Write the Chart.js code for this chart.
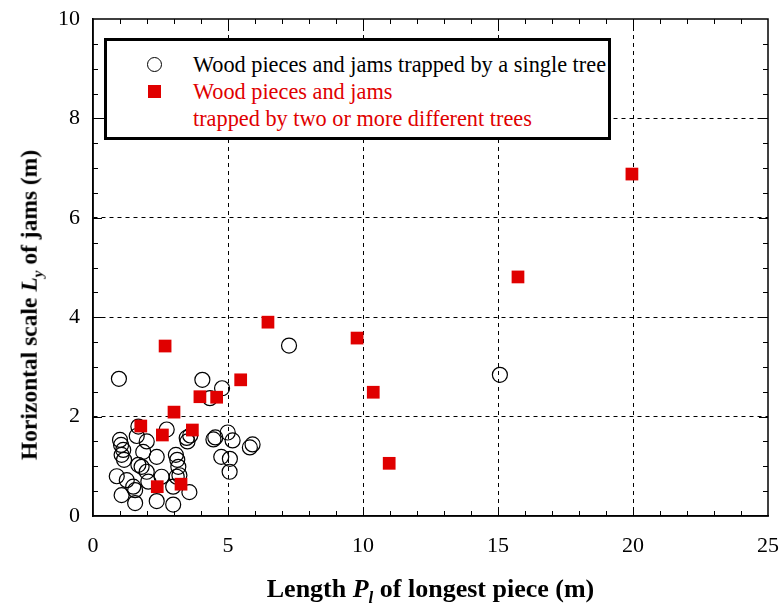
<!DOCTYPE html>
<html>
<head>
<meta charset="utf-8">
<script src="https://cdn.jsdelivr.net/npm/chart.js@4/dist/chart.umd.min.js"></script>
<style>
  body { margin: 0; background: #fff; }
  #wrap { position: relative; width: 782px; height: 609px; font-family: "Liberation Serif", "Times New Roman", serif; }
  #wrap canvas { position: absolute; left: 0; top: 0; }
  .legend { position: absolute; left: 104px; top: 38px; width: 507px; height: 102px; box-sizing: border-box;
            border: 3px solid #000; background: #fff; font-size: 22.3px; }
  .legend .t { position: absolute; left: 86px; white-space: nowrap; line-height: 1; }
  .mk-circle { position: absolute; left: 40px; width: 13px; height: 13px; border: 1.3px solid #000; border-radius: 50%; }
  .mk-square { position: absolute; left: 41px; width: 13px; height: 13px; background: #e00000; }
  .xtitle { position: absolute; left: 0; width: 861px; top: 574px; text-align: center; font-weight: bold; font-size: 26px; white-space: nowrap; }
  .ytitle { position: absolute; left: 31px; top: 305px; transform: translate(-50%, -50%) rotate(-90deg); font-weight: bold; font-size: 23.5px; white-space: nowrap; }
  sub { font-size: 0.65em; }
</style>
</head>
<body>
<div id="wrap">
  <canvas id="chart" width="782" height="609"></canvas>
  <div class="legend">
    <span class="mk-circle" style="top:16px"></span>
    <span class="t" style="top:13px">Wood pieces and jams trapped by a single tree</span>
    <span class="mk-square" style="top:44px"></span>
    <span class="t" style="top:40px;color:#e00000">Wood pieces and jams</span>
    <span class="t" style="top:67px;color:#e00000">trapped by two or more different trees</span>
  </div>
  <div class="xtitle">Length <i>P<sub>l</sub></i> of longest piece (m)</div>
  <div class="ytitle">Horizontal scale <i>L<sub>y</sub></i> of jams (m)</div>
</div>
<script>
// single tree (open circles)
const singleX = [0.96, 4.05, 4.78, 4.33, 7.26, 15.07, 4.99, 4.53, 4.46, 5.17, 5.91, 5.81, 4.75, 5.07, 5.06,
                 3.47, 2.73, 3.50, 3.60, 1.68, 1.62, 1.00, 1.04, 1.12, 1.06, 1.15, 1.99, 1.86, 2.36, 1.68,
                 1.99, 1.80, 3.07, 3.12, 3.16, 3.20, 3.10, 0.88, 1.25, 1.49, 1.56, 1.06, 1.56, 2.36, 2.97,
                 3.57, 2.54, 2.97, 2.05];
const singleY = [2.76, 2.74, 2.57, 2.37, 3.43, 2.84, 1.68, 1.58, 1.54, 1.52, 1.44, 1.38, 1.19, 1.15, 0.89,
                 1.57, 1.74, 1.50, 1.62, 1.80, 1.61, 1.53, 1.43, 1.33, 1.23, 1.13, 1.50, 1.29, 1.19, 1.03,
                 0.89, 0.99, 1.23, 1.13, 0.99, 0.82, 0.79, 0.80, 0.72, 0.59, 0.52, 0.42, 0.26, 0.30, 0.23,
                 0.48, 0.79, 0.59, 0.69];
// two or more trees (red squares)
const multiX = [2.67, 5.47, 3.96, 4.58, 3.00, 1.77, 2.57, 3.68, 2.38, 3.26, 6.48, 9.78, 10.38, 10.97, 15.74, 19.96];
const multiY = [3.42, 2.74, 2.40, 2.39, 2.09, 1.81, 1.63, 1.73, 0.59, 0.64, 3.90, 3.58, 2.49, 1.06, 4.81, 6.88];

const xTicks = [0, 5, 10, 15, 20, 25];
const yTicks = [0, 2, 4, 6, 8, 10];

const toPoints = (xs, ys) => xs.map((x, i) => ({ x: x, y: ys[i] }));

const frameAndTicks = {
  id: 'frameAndTicks',
  afterDatasetsDraw(chart) {
    const { ctx, chartArea: a, scales: { x, y } } = chart;
    ctx.save();
    ctx.strokeStyle = '#000';
    ctx.lineWidth = 1;
    ctx.setLineDash([]);
    ctx.beginPath();
    for (let v = 1; v < 25; v++) {
      const px = Math.round(x.getPixelForValue(v)) + 0.5;
      const len = v % 5 === 0 ? 9 : 5;
      ctx.moveTo(px, a.bottom); ctx.lineTo(px, a.bottom - len);
      ctx.moveTo(px, a.top); ctx.lineTo(px, a.top + len);
    }
    for (let v = 0.5; v < 10; v += 0.5) {
      const py = Math.round(y.getPixelForValue(v)) + 0.5;
      const len = v % 2 === 0 ? 9 : 5;
      ctx.moveTo(a.left, py); ctx.lineTo(a.left + len, py);
      ctx.moveTo(a.right, py); ctx.lineTo(a.right - len, py);
    }
    ctx.stroke();
    ctx.lineWidth = 1.5;
    ctx.strokeRect(a.left, a.top, a.right - a.left, a.bottom - a.top);
    ctx.restore();
  }
};

// dashed grid only on the inner major ticks
const gridColor = (c) => {
  if (!c.tick) return 'transparent';
  const max = c.scale.axis === 'x' ? 25 : 10;
  return (c.tick.value === 0 || c.tick.value === max) ? 'transparent' : '#000';
};

new Chart(document.getElementById('chart'), {
  type: 'scatter',
  data: {
    datasets: [
      {
        label: 'Wood pieces and jams trapped by two or more different trees',
        data: toPoints(multiX, multiY),
        pointStyle: 'rect',
        pointRadius: 9,
        backgroundColor: '#e00000',
        borderColor: '#e00000',
        borderWidth: 0,
        order: 0
      },
      {
        label: 'Wood pieces and jams trapped by a single tree',
        data: toPoints(singleX, singleY),
        pointStyle: 'circle',
        pointRadius: 7.5,
        backgroundColor: 'transparent',
        borderColor: '#000',
        borderWidth: 1.2,
        order: 1
      }
    ]
  },
  options: {
    responsive: false,
    animation: false,
    layout: { padding: { top: 19, right: 14, left: 0, bottom: 0 } },
    plugins: { legend: { display: false }, tooltip: { enabled: false } },
    scales: {
      x: {
        type: 'linear', min: 0, max: 25,
        afterBuildTicks: (s) => { s.ticks = xTicks.map(v => ({ value: v })); },
        afterFit: (s) => { s.height = 93; s.paddingLeft = 0; s.paddingRight = 0; },
        ticks: { color: '#000', padding: 17, maxRotation: 0,
                 font: { family: '"Liberation Serif", serif', size: 22 } },
        grid: { color: gridColor, lineWidth: 1, drawTicks: false },
        border: { display: true, color: '#000', width: 1.5, dash: [4, 4] }
      },
      y: {
        type: 'linear', min: 0, max: 10,
        afterBuildTicks: (s) => { s.ticks = yTicks.map(v => ({ value: v })); },
        afterFit: (s) => { s.width = 93; s.paddingTop = 0; s.paddingBottom = 0; },
        ticks: { color: '#000', padding: 13,
                 font: { family: '"Liberation Serif", serif', size: 22 } },
        grid: { color: gridColor, lineWidth: 1, drawTicks: false },
        border: { display: true, color: '#000', width: 1.5, dash: [4, 4] }
      }
    }
  },
  plugins: [frameAndTicks]
});
</script>
</body>
</html>
